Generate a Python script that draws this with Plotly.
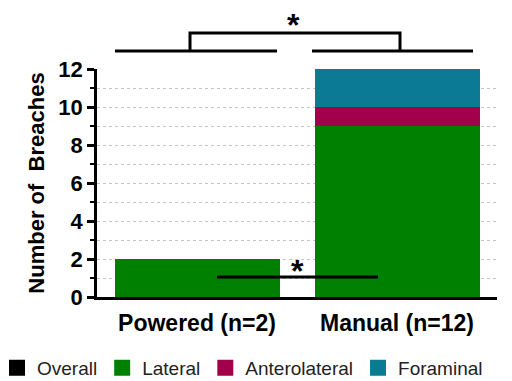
import plotly.graph_objects as go

# ---- data ----
groups = ["Powered (n=2)", "Manual (n=12)"]
series_names = ["Overall", "Lateral", "Anterolateral", "Foraminal"]
overall = [None, None]
lateral = [2, 9]
anterolateral = [0, 1]
foraminal = [0, 2]
y_ticks = [0, 2, 4, 6, 8, 10, 12]

# ---- styles ----
COLORS = {"Overall": "#000000", "Lateral": "#008000",
          "Anterolateral": "#A3004B", "Foraminal": "#0B7A94"}
FONT = "Liberation Sans, Arial, sans-serif"

fig = go.Figure()
series_values = {"Overall": overall, "Lateral": lateral,
                 "Anterolateral": anterolateral, "Foraminal": foraminal}
for name in series_names:
    fig.add_bar(x=groups, y=series_values[name], name=name, legendgroup=name,
                marker_color=COLORS[name], marker_line_width=0, showlegend=False)
# legend entries (larger square swatches)
for name in series_names:
    fig.add_scatter(x=[None], y=[None], mode="markers", name=name, legendgroup=name,
                    marker=dict(symbol="square", size=16, color=COLORS[name]))

Y_MAX = 12.0


def dx(x):  # data x (category index) -> x domain
    return (x + 0.5) / 2.0


def dy(y):  # data y -> y domain
    return y / Y_MAX


line = dict(color="black", width=3)
shapes = []
# top significance bracket
top_base = 12.95
top_peak = 13.9
shapes.append(dict(type="line", xref="x domain", yref="y domain",
                   x0=dx(-0.41), x1=dx(0.40), y0=dy(top_base), y1=dy(top_base), line=line))
shapes.append(dict(type="line", xref="x domain", yref="y domain",
                   x0=dx(0.575), x1=dx(1.38), y0=dy(top_base), y1=dy(top_base), line=line))
shapes.append(dict(type="path", xref="x domain", yref="y domain",
                   path=f"M {dx(-0.035)} {dy(top_base)} L {dx(-0.035)} {dy(top_peak)} "
                        f"L {dx(1.015)} {dy(top_peak)} L {dx(1.015)} {dy(top_base)}",
                   line=line))
# lower significance line
low_y = 1.05
shapes.append(dict(type="line", xref="x domain", yref="y domain",
                   x0=dx(0.10), x1=dx(0.905), y0=dy(low_y), y1=dy(low_y), line=line))

annotations = [
    dict(text="<b>*</b>", xref="x domain", yref="y domain", x=dx(0.48), y=dy(14.3),
         showarrow=False, font=dict(family=FONT, size=32, color="black"),
         xanchor="center", yanchor="middle"),
    dict(text="<b>*</b>", xref="x domain", yref="y domain", x=dx(0.5), y=dy(1.35),
         showarrow=False, font=dict(family=FONT, size=32, color="black"),
         xanchor="center", yanchor="middle"),
]

fig.update_layout(
    width=504, height=373,
    margin=dict(l=89, r=15, t=61, b=84, autoexpand=False),
    barmode="stack",
    bargap=0.175,
    plot_bgcolor="white",
    paper_bgcolor="white",
    font=dict(family=FONT, color="black"),
    shapes=shapes,
    annotations=annotations,
    showlegend=True,
    legend=dict(orientation="h", x=-0.25, xanchor="left", y=-0.311, yanchor="middle",
                font=dict(family=FONT, size=19, color="#222222"),
                traceorder="normal", itemwidth=30, tracegroupgap=0),
    xaxis=dict(
        range=[-0.5, 1.5],
        showline=True, linecolor="black", linewidth=2.5,
        ticks="", showgrid=False, zeroline=False,
        tickfont=dict(family=FONT, size=23, color="black", weight="bold"),
        ticklabelstandoff=4,
        automargin=False,
    ),
    yaxis=dict(
        range=[0, Y_MAX],
        tickvals=y_ticks,
        showline=True, linecolor="black", linewidth=2.5,
        ticks="outside", ticklen=7, tickwidth=2.5, tickcolor="black",
        tickfont=dict(family=FONT, size=22, color="black", weight="bold"),
        showgrid=True, gridcolor="#c4c4c4", gridwidth=1, griddash="dot",
        zeroline=False,
        automargin=False,
        minor=dict(dtick=1, ticks="outside", ticklen=4, tickwidth=2, tickcolor="black",
                   showgrid=True, gridcolor="#c4c4c4", gridwidth=1, griddash="dot"),
        title=dict(text="<b>Number of  Breaches</b>",
                   font=dict(family=FONT, size=22, color="black"), standoff=8),
    ),
)

fig.write_html("out.html")
